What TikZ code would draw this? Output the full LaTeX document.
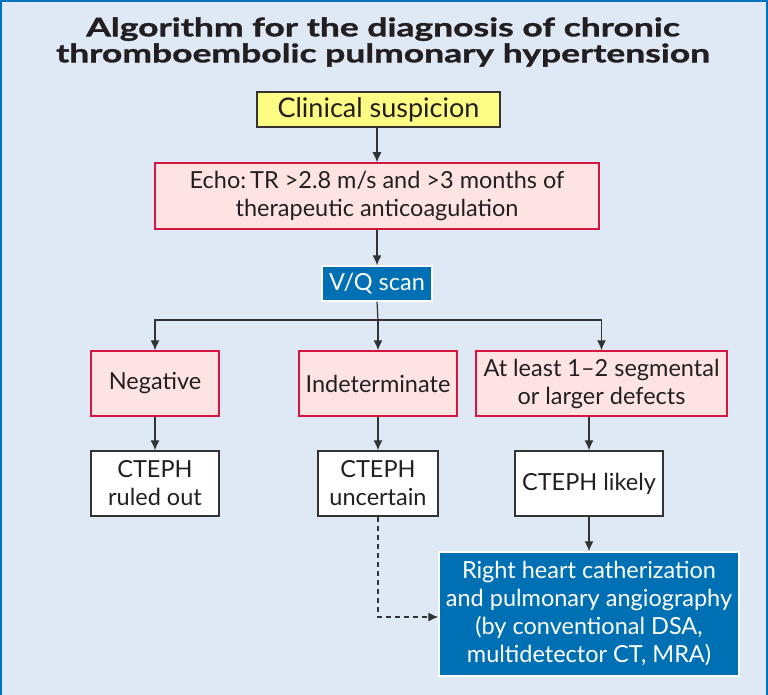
\documentclass[tikz,border=0pt]{standalone}
\usepackage{fontspec}
\setmainfont{Lato}
\newfontfamily\titlefont{Lato}[FakeStretch=1.39,FakeBold=1.3]
\usetikzlibrary{arrows.meta}
\definecolor{bgblue}{RGB}{223,233,245}
\definecolor{frameblue}{RGB}{0,114,188}
\definecolor{boxred}{RGB}{214,22,64}
\definecolor{pinkfill}{RGB}{253,228,226}
\definecolor{yellowfill}{RGB}{252,252,132}
\definecolor{bluefill}{RGB}{0,112,181}
\definecolor{darktext}{RGB}{35,31,32}
\definecolor{linegray}{RGB}{51,51,51}
\tikzset{
  basebox/.style={inner sep=0pt, align=center, font=\fontsize{23.5}{28}\selectfont, text=darktext},
  yellowbox/.style={basebox, draw=linegray, line width=1.2pt, fill=yellowfill, font=\fontsize{27}{30}\selectfont},
  redbox/.style={basebox, draw=boxred, line width=1.5pt, fill=pinkfill},
  whitebox/.style={basebox, draw=linegray, line width=1.5pt, fill=white},
  bluebox/.style={basebox, draw=white, line width=1.5pt, fill=bluefill, text=white},
  conn/.style={draw=linegray, line width=1.2pt, -{Latex[length=10pt,width=9pt]}},
  dconn/.style={conn, dash pattern=on 5pt off 4pt},
}
\begin{document}
\begin{tikzpicture}[x=1pt,y=-1pt]
  \fill[bgblue] (0,0) rectangle (768,695);
  \useasboundingbox (0,0) rectangle (768,695);
  \draw[frameblue, line width=2pt] (1,695) -- (1,1) -- (767,1) -- (767,695);
  \node[align=center, font=\titlefont\bfseries\fontsize{25.5}{26}\selectfont, text=darktext] (title) at (383,42)
    {Algorithm for the diagnosis of chronic\\thromboembolic pulmonary hypertension};
  \node[yellowbox, minimum width=243pt, minimum height=35pt] (clin) at (378.5,109.5) {Clinical suspicion};
  \node[redbox, minimum width=444pt, minimum height=66pt] (echo) at (377,196)
    {Echo:\,TR >2.8 m/s and >3 months of\\therapeutic anticoagulation};
  \node[bluebox, minimum width=110pt, minimum height=35pt] (vq) at (377,283.5) {V/Q scan};
  \node[redbox, minimum width=128pt, minimum height=65pt] (neg) at (155,383.5) {Negative};
  \node[redbox, minimum width=158pt, minimum height=65pt] (ind) at (378,383.5) {Indeterminate};
  \node[redbox, minimum width=251pt, minimum height=65pt] (atl) at (601.5,383.5)
    {At least 1–2 segmental\\or larger defects};
  \node[whitebox, minimum width=128pt, minimum height=65pt] (ro) at (155,483.5) {CTEPH\\ruled out};
  \node[whitebox, minimum width=120pt, minimum height=65pt] (unc) at (378,483.5) {CTEPH\\uncertain};
  \node[whitebox, minimum width=148pt, minimum height=65pt] (lik) at (589,483.5) {CTEPH likely};
  \node[bluebox, minimum width=300pt, minimum height=124pt] (rhc) at (589,614)
    {Right heart catherization\\and pulmonary angiography\\(by conventional DSA,\\multidetector CT, MRA)};
  \coordinate (split) at (378,320);
  \draw[conn] (clin.south -| echo.north) -- (echo.north);
  \draw[conn] (echo.south) -- (vq.north);
  \draw[draw=linegray, line width=1.2pt] (vq.south) -- (split);
  \draw[conn] (split) -| (neg.north);
  \draw[conn] (split) -- (ind.north);
  \draw[conn] (split) -| (atl.north);
  \draw[conn] (neg) -- (ro);
  \draw[conn] (ind) -- (unc);
  \draw[conn] (atl.south -| lik.north) -- (lik.north);
  \draw[conn] (lik) -- (rhc);
  \draw[dconn] (unc.south) |- (rhc.west |- 0,617);
\end{tikzpicture}
\end{document}
